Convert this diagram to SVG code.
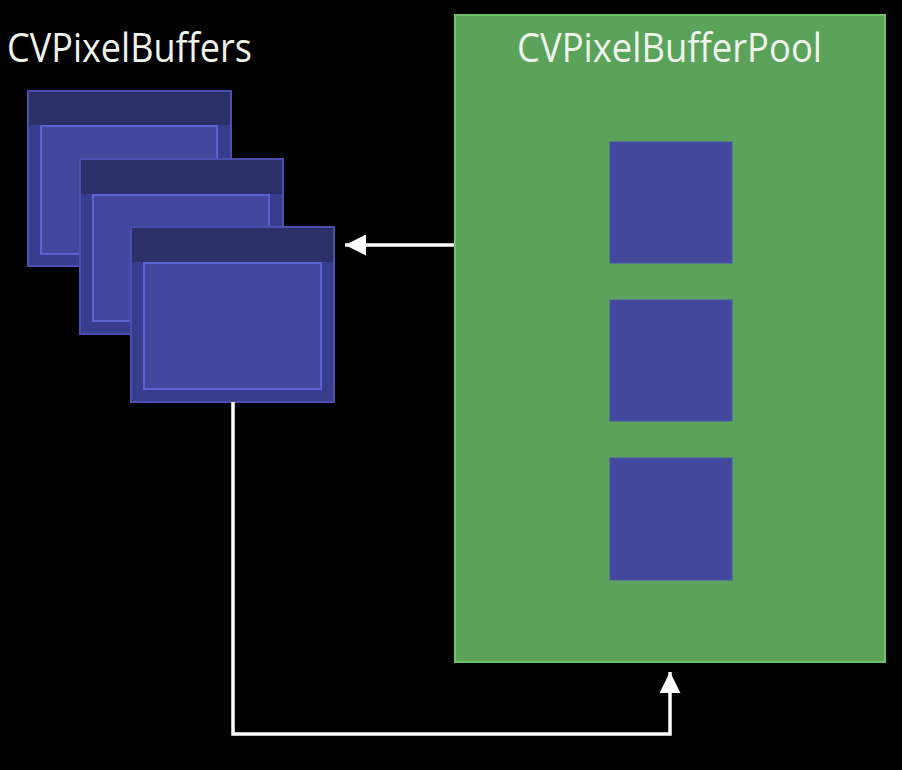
<svg xmlns="http://www.w3.org/2000/svg" width="902" height="770" viewBox="0 0 902 770">
<defs>
<style>
.lbl{font-family:"Open Sans","Liberation Sans",sans-serif;font-size:40px;fill:#eef3ec}
.outer{fill:#383c8c;stroke:#4a4fb0;stroke-width:2}
.hdr{fill:#2d3068}
.inner{fill:#43489e;stroke:#5d62d4;stroke-width:2}
.slot{fill:#43489c;stroke:#4d55b0;stroke-width:1}
.conn{fill:none;stroke:#ffffff;stroke-width:3.5}
</style>
<marker id="ah" viewBox="0 0 10 10" refX="10" refY="5" markerWidth="6" markerHeight="6" markerUnits="strokeWidth" orient="auto">
<path d="M0,0 L10,5 L0,10 Z" fill="#ffffff"/>
</marker>
</defs>
<rect x="0" y="0" width="902" height="770" fill="#000000"/>
<g id="pool">
<rect x="455" y="15" width="430" height="647" fill="#5ba25a" stroke="#6cc268" stroke-width="2"/>
<text class="lbl" x="669.5" y="62" text-anchor="middle" textLength="305" lengthAdjust="spacingAndGlyphs">CVPixelBufferPool</text>
<rect class="slot" x="610" y="142" width="122" height="121"/>
<rect class="slot" x="610" y="300" width="122" height="121"/>
<rect class="slot" x="610" y="458" width="122" height="122"/>
</g>
<g id="buffers">
<text class="lbl" x="7" y="62" textLength="245" lengthAdjust="spacingAndGlyphs">CVPixelBuffers</text>
<g id="buffer1">
<rect class="outer" x="28" y="91" width="203" height="175"/>
<rect class="hdr" x="29" y="92" width="201" height="33"/>
<rect class="inner" x="41" y="126" width="176" height="128"/>
</g>
<g id="buffer2">
<rect class="outer" x="80" y="159" width="203" height="175"/>
<rect class="hdr" x="81" y="160" width="201" height="34"/>
<rect class="inner" x="93" y="195" width="176" height="126"/>
</g>
<g id="buffer3">
<rect class="outer" x="131" y="227" width="203" height="175"/>
<rect class="hdr" x="132" y="228" width="201" height="34"/>
<rect class="inner" x="144" y="263" width="177" height="126"/>
</g>
</g>
<g id="connectors">
<line class="conn" x1="454" y1="245" x2="345" y2="245" marker-end="url(#ah)"/>
<polyline class="conn" points="233,402 233,734 670,734 670,672" marker-end="url(#ah)"/>
</g>
</svg>
